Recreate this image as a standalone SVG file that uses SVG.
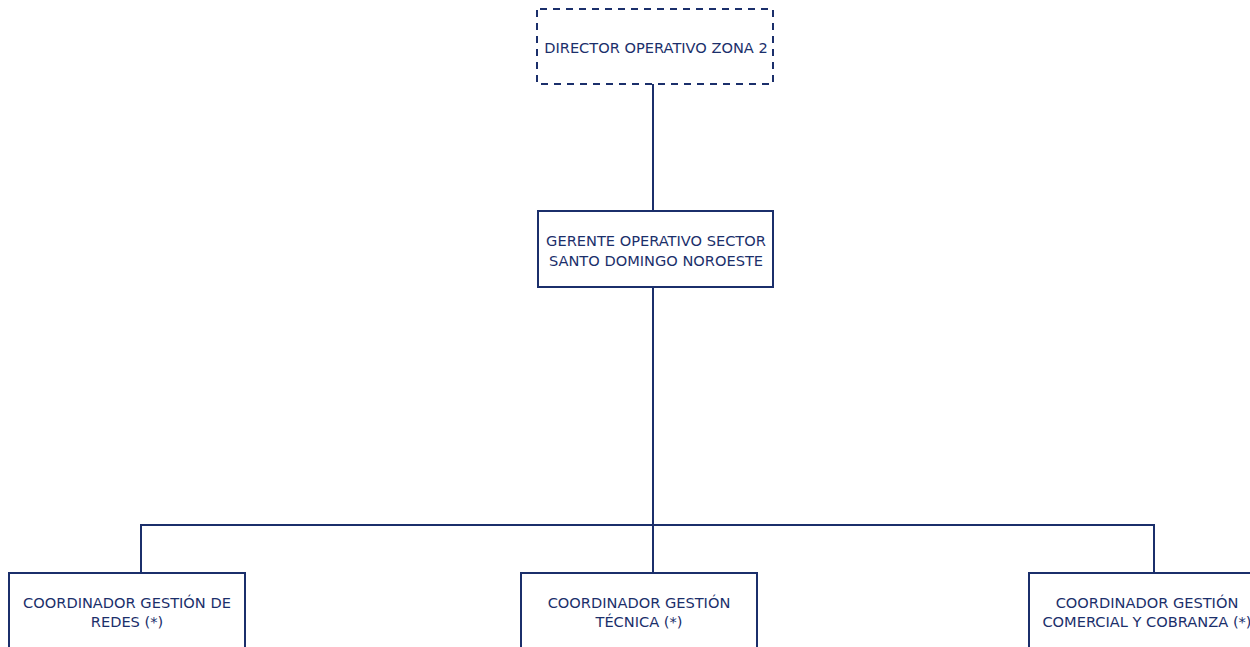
<svg xmlns="http://www.w3.org/2000/svg" width="1250" height="647" viewBox="0 0 1250 647">
<style>
.box{fill:#ffffff;stroke:#1b2f6b;stroke-width:2}
.dash{stroke-dasharray:7 6;stroke-dashoffset:-3}
.t{font-family:"DejaVu Sans",Verdana,sans-serif;font-size:14.6px;fill:#1b2f6b;text-anchor:middle}
.c{fill:none;stroke:#1b2f6b;stroke-width:2}
</style>
<rect width="1250" height="647" fill="#ffffff"/>
<g id="connectors">
<path class="c" d="M653 84 V211"/>
<path class="c" d="M653 287 V573"/>
<path class="c" d="M141 573 V525 H1154 V573"/>
</g>
<g id="director">
<rect class="box dash" x="537" y="9" width="236" height="75"/>
<text class="t" x="656" y="53">DIRECTOR OPERATIVO ZONA 2</text>
</g>
<g id="gerente">
<rect class="box" x="538" y="211" width="235" height="76"/>
<text class="t" x="656" y="245.5">GERENTE OPERATIVO SECTOR</text>
<text class="t" x="656" y="265.5">SANTO DOMINGO NOROESTE</text>
</g>
<g id="coord-redes">
<rect class="box" x="9" y="573" width="236" height="90"/>
<text class="t" x="127" y="607.5">COORDINADOR GESTIÓN DE</text>
<text class="t" x="127" y="627">REDES (*)</text>
</g>
<g id="coord-tecnica">
<rect class="box" x="521" y="573" width="236" height="90"/>
<text class="t" x="639" y="607.5">COORDINADOR GESTIÓN</text>
<text class="t" x="639" y="627">TÉCNICA (*)</text>
</g>
<g id="coord-comercial">
<rect class="box" x="1029" y="573" width="236" height="90"/>
<text class="t" x="1147" y="607.5">COORDINADOR GESTIÓN</text>
<text class="t" x="1147" y="627">COMERCIAL Y COBRANZA (*)</text>
</g>
</svg>
